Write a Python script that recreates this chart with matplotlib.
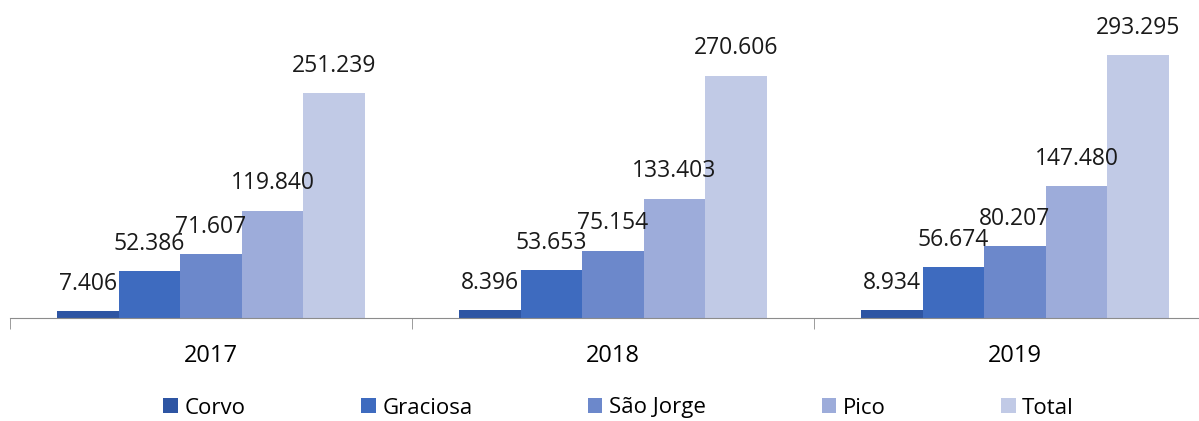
import matplotlib.pyplot as plt
import numpy as np

years = ['2017', '2018', '2019']
islands = ['Corvo', 'Graciosa', 'São Jorge', 'Pico', 'Total']
values = {
    'Corvo': [7.406, 8.396, 8.934],
    'Graciosa': [52.386, 53.653, 56.674],
    'São Jorge': [71.607, 75.154, 80.207],
    'Pico': [119.840, 133.403, 147.480],
    'Total': [251.239, 270.606, 293.295],
}
colors = ['#2E55A3', '#3E6BBF', '#6C88CB', '#9DACDA', '#C1CAE6']

plt.rcParams['font.family'] = ['Open Sans', 'DejaVu Sans']

fig = plt.figure(figsize=(11.99, 4.21), dpi=100)
ax = fig.add_axes([10 / 1199, (421 - 318) / 421, 1206 / 1199, 318 / 421])

x = np.arange(len(years))
width = 0.153
for i, name in enumerate(islands):
    pos = x + (i - 2) * width
    bars = ax.bar(pos, values[name], width, color=colors[i], label=name)
    for b, v in zip(bars, values[name]):
        ax.annotate(f'{v:.3f}', (b.get_x() + b.get_width() / 2, v),
                    xytext=(0, 11), textcoords='offset points',
                    ha='center', va='bottom', fontsize=16.5, color='#1a1a1a')

ax.set_xlim(-0.5, 2.5)
ax.set_ylim(0, 355)
ax.set_yticks([])
for s in ['top', 'right', 'left']:
    ax.spines[s].set_visible(False)
ax.spines['bottom'].set_color('#8c8c8c')
ax.set_xticks(x)
ax.set_xticklabels(years, fontsize=17)
ax.tick_params(axis='x', which='major', length=0, pad=19)
ax.set_xticks([-0.5, 0.5, 1.5, 2.5], minor=True)
ax.tick_params(axis='x', which='minor', length=8, color='#8c8c8c')

fig.legend(loc='center', bbox_to_anchor=(0.516, 13 / 421),
           ncol=5, frameon=False, fontsize=16, handlelength=0.65,
           handleheight=0.65, handletextpad=0.3, columnspacing=5.2)

fig.savefig('out.png', dpi=100)
